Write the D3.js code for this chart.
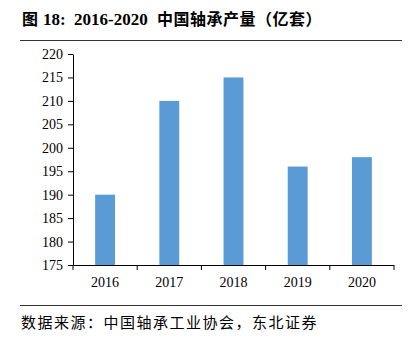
<!DOCTYPE html>
<html>
<head>
<meta charset="utf-8">
<script src="https://cdn.jsdelivr.net/npm/d3@7/dist/d3.min.js"></script>
<style>
  html, body { margin: 0; padding: 0; background: #fff; }
  svg { display: block; }
</style>
</head>
<body>
<svg id="chart" width="410" height="341"></svg>
<script>
// Bearing output in China, 2016-2020 (100 million sets)
const years = ["2016", "2017", "2018", "2019", "2020"];
const output = [190, 210, 215, 196, 198];
const yTicks = [175, 180, 185, 190, 195, 200, 205, 210, 215, 220];

// title pieces: figure label, number, year range, subject
const titleParts = [
  { text: "图", x: 22, font: "'Noto Sans CJK SC', sans-serif", size: 16, spacing: 0 },
  { text: "18:", x: 43, font: "'Liberation Serif', serif", size: 17, spacing: 0 },
  { text: "2016-2020", x: 74, font: "'Liberation Serif', serif", size: 17, spacing: 0 },
  { text: "中国轴承产量（亿套）", x: 157, font: "'Noto Sans CJK SC', sans-serif", size: 16, spacing: 0.5 }
];
const sourceText = "数据来源：中国轴承工业协会，东北证券";

const svg = d3.select("#chart");
const W = 410, H = 341;
const margin = { left: 73, right: 16, top: 54, bottom: 76 };

const x = d3.scaleBand()
  .domain(years)
  .range([margin.left, W - margin.right])
  .paddingInner(0.69)
  .paddingOuter(0.345);

const y = d3.scaleLinear()
  .domain([175, 220])
  .range([H - margin.bottom, margin.top]);

// title and rule under it
svg.append("g").selectAll("text")
  .data(titleParts)
  .join("text")
  .attr("x", (d) => d.x)
  .attr("y", 25)
  .attr("font-family", (d) => d.font)
  .attr("font-size", (d) => d.size)
  .attr("letter-spacing", (d) => d.spacing)
  .attr("font-weight", "bold")
  .attr("fill", "#000")
  .text((d) => d.text);

svg.append("line")
  .attr("x1", 20).attr("x2", 402)
  .attr("y1", 40.5).attr("y2", 40.5)
  .attr("stroke", "#333").attr("stroke-width", 1);

// bars
svg.append("g").selectAll("rect")
  .data(years)
  .join("rect")
  .attr("x", (d) => x(d))
  .attr("width", x.bandwidth())
  .attr("y", (d, i) => y(output[i]))
  .attr("height", (d, i) => y(175) - y(output[i]))
  .attr("fill", "#5b9bd5");

// y axis
const yAxis = svg.append("g")
  .attr("class", "axis")
  .attr("transform", `translate(${margin.left},0)`)
  .call(d3.axisLeft(y).tickValues(yTicks).tickSize(5).tickPadding(5).tickSizeOuter(0));

// x axis with ticks at category boundaries
const xAxisG = svg.append("g")
  .attr("class", "axis")
  .attr("transform", `translate(0,${H - margin.bottom})`);
xAxisG.append("line")
  .attr("x1", margin.left).attr("x2", W - margin.right)
  .attr("y1", 0.5).attr("y2", 0.5)
  .attr("stroke", "#000");
const step = x.step();
const bounds = d3.range(years.length + 1).map((i) => margin.left + i * step);
xAxisG.selectAll("line.tk")
  .data(bounds)
  .join("line")
  .attr("class", "tk")
  .attr("x1", (d) => d).attr("x2", (d) => d)
  .attr("y1", 0).attr("y2", 5)
  .attr("stroke", "#000");
xAxisG.selectAll("text")
  .data(years)
  .join("text")
  .attr("x", (d) => x(d) + x.bandwidth() / 2)
  .attr("y", 22)
  .attr("text-anchor", "middle")
  .text((d) => d);

svg.selectAll("g.axis text")
  .attr("font-family", "'Liberation Serif', 'Times New Roman', serif")
  .attr("font-size", 14)
  .attr("fill", "#000");
yAxis.selectAll("path, line").attr("stroke", "#000");

// source note
svg.append("line")
  .attr("x1", 20).attr("x2", 402)
  .attr("y1", 305.5).attr("y2", 305.5)
  .attr("stroke", "#333").attr("stroke-width", 1);

svg.append("text")
  .attr("x", 21).attr("y", 328)
  .attr("font-family", "'Noto Sans CJK SC', sans-serif")
  .attr("font-size", 15)
  .attr("letter-spacing", 1.5)
  .attr("fill", "#000")
  .text(sourceText);
</script>
</body>
</html>
